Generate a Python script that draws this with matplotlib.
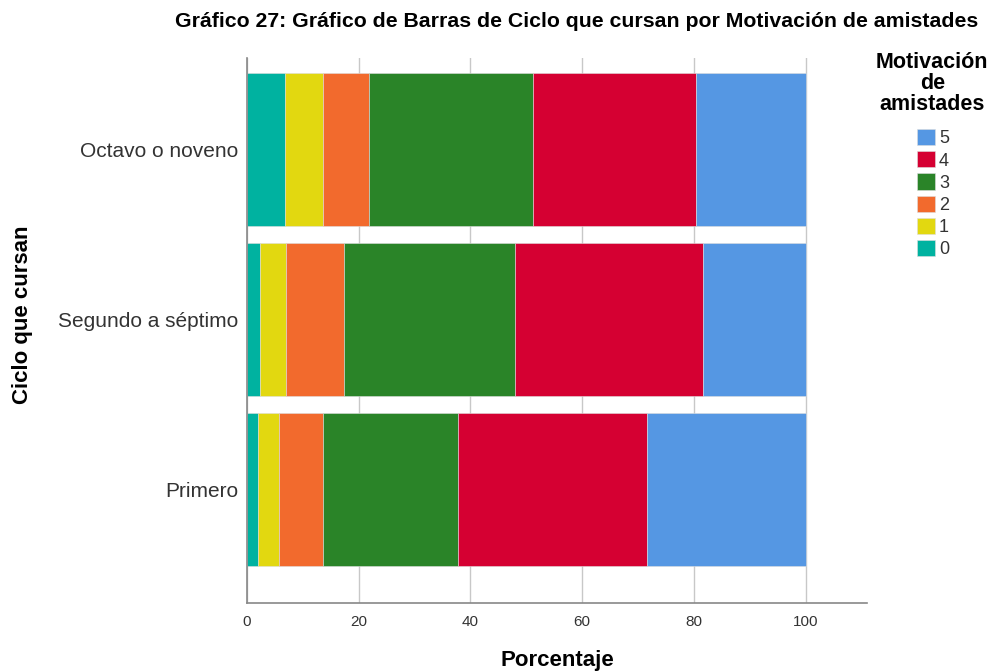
import matplotlib.pyplot as plt
from matplotlib.patches import Patch

plt.rcParams['font.family'] = ['Liberation Sans', 'DejaVu Sans']

# Data (percentages per cycle)
ciclos = ["Primero", "Segundo a séptimo", "Octavo o noveno"]
niveles = ["0", "1", "2", "3", "4", "5"]
pct_0 = [2.0, 2.3, 6.8]
pct_1 = [3.8, 4.7, 6.9]
pct_2 = [7.9, 10.4, 8.2]
pct_3 = [24.1, 30.5, 29.3]
pct_4 = [33.8, 33.8, 29.2]
pct_5 = [28.4, 18.3, 19.6]
colores = ["#00b2a0", "#e2d810", "#f26a2d", "#2a8428", "#d50032", "#5597e3"]

series = [pct_0, pct_1, pct_2, pct_3, pct_4, pct_5]

fig = plt.figure(figsize=(9.95, 6.72), dpi=100)
ax = fig.add_axes([0.2482, 0.1027, 0.6232, 0.811])

y = list(range(len(ciclos)))
left = [0.0] * len(ciclos)
for vals, col in zip(series, colores):
    ax.barh(y, vals, left=left, height=0.9, color=col,
            edgecolor="#dddddd", linewidth=0.4, zorder=2)
    left = [a + b for a, b in zip(left, vals)]

ax.set_xlim(0, 111)
ax.set_ylim(-0.668, 2.538)
ax.set_xticks([0, 20, 40, 60, 80, 100])
ax.set_yticks(y)
ax.set_yticklabels(ciclos, fontsize=15, color="#333333")
ax.tick_params(axis="x", labelsize=11, length=0, pad=9, colors="#333333")
ax.tick_params(axis="y", length=0, pad=6)
ax.grid(axis="x", color="#c8c8c8", linewidth=1, zorder=0)
ax.set_axisbelow(True)
for s in ["top", "right"]:
    ax.spines[s].set_visible(False)
for s in ["left", "bottom"]:
    ax.spines[s].set_color("#888888")
    ax.spines[s].set_linewidth(1.2)

fig.text(0.580, 0.968, "Gráfico 27: Gráfico de Barras de Ciclo que cursan por Motivación de amistades",
         ha="center", va="center", fontsize=15.3, fontweight="bold")
fig.text(0.560, 0.017, "Porcentaje", ha="center", va="center",
         fontsize=16, fontweight="bold")
fig.text(0.023, 0.531, "Ciclo que cursan", ha="center", va="center",
         rotation=90, fontsize=16, fontweight="bold")

# legend title drawn separately so its gap to the entries can match
fig.text(0.937, 0.876, "Motivación\nde\namistades", ha="center", va="center",
         fontsize=15.5, fontweight="bold", linespacing=1.0)

handles = [Patch(facecolor=c, edgecolor="#dddddd", linewidth=0.4)
           for c in colores][::-1]
leg = fig.legend(handles, niveles[::-1], loc="upper left",
                 bbox_to_anchor=(0.922, 0.808), frameon=False,
                 borderpad=0, borderaxespad=0,
                 fontsize=13, handlelength=1.0, handleheight=1.0,
                 handletextpad=0.2, labelspacing=0.22)
for t in leg.get_texts():
    t.set_color("#333333")

plt.savefig("out.png", dpi=100)
